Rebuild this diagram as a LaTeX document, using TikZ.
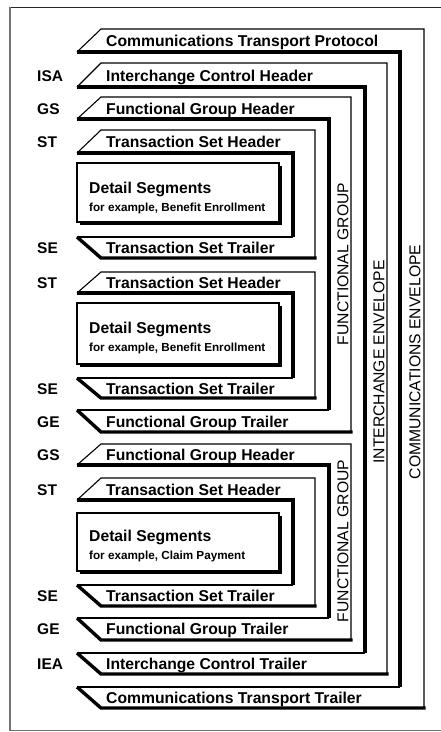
\documentclass[tikz,border=0pt]{standalone}
\usepackage{fontspec}
\setmainfont{Liberation Sans}
\begin{document}
\begin{tikzpicture}[x=1pt,y=-1pt,
  thinln/.style={line width=1.1pt,line join=miter},
  thickln/.style={line width=3.4pt,line join=miter},
  tabtext/.style={anchor=base west,inner sep=0pt,font=\fontsize{15.7}{18}\selectfont\bfseries},
  segtext/.style={anchor=base west,inner sep=0pt,font=\fontsize{15.7}{18}\selectfont\bfseries},
  lbltext/.style={anchor=base west,inner sep=0pt,font=\fontsize{15.5}{18}\selectfont\bfseries},
  smalltext/.style={anchor=base west,inner sep=0pt,font=\fontsize{11.7}{14}\selectfont\bfseries},
  vtext/.style={rotate=90,anchor=center,inner sep=0pt,font=\fontsize{15.7}{18}\selectfont}]
\useasboundingbox (0,0) rectangle (440,732);
% outer frame
\draw[line width=1.8pt,black!85] (10,7.5) -- (441,7.5);
\draw[line width=1.5pt,black!55] (10,7) -- (10,730.5) -- (441,730.5);
% envelope macro: #1 yt, #2 yb, #3 ytt, #4 ytb, #5 xi, #6 xo
\newcommand\envshape[6]{%
  \draw[thinln] (77,#2) -- (101,#1) -- (#6,#1) -- (#6,#4);
  \draw[thinln] (#5,#3) -- (77,#3);
  \draw[thickln] (77,#2) -- (#5,#2) -- (#5,#3);
  \draw[thickln] (77,#3) -- (101,#4) -- (#6+1.5,#4);
}
\newcommand\segbox[4]{%
  \draw[thinln] (#1,#2) rectangle (#3,#4);
  \draw[line width=2.6pt,line join=miter] (#1+3,#4+1.6) -- (#3+1.6,#4+1.6) -- (#3+1.6,#2+3);
}
\envshape{29}{52}{687}{708}{400}{424}
\envshape{63}{87}{653}{674}{365}{387}
\envshape{97}{119}{410}{432}{329}{351}
\envshape{130}{153}{237}{258}{293}{315}
\envshape{272}{293}{378}{398}{293}{315}
\envshape{444}{465}{618}{640}{329}{351}
\envshape{478}{500}{585}{606}{293}{315}
\segbox{77}{163}{279}{222}
\segbox{77}{303}{279}{364}
\segbox{77}{513}{279}{571}
% tab texts
\node[tabtext] (cth) at (106,46) {Communications Transport Protocol};
\node[tabtext] (ich) at (106,81) {Interchange Control Header};
\node[tabtext] (fgh1) at (106,114) {Functional Group Header};
\node[tabtext] (tsh1) at (106,147) {Transaction Set Header};
\node[tabtext] (tst1) at (106,253) {Transaction Set Trailer};
\node[tabtext] (tsh2) at (106,288) {Transaction Set Header};
\node[tabtext] (tst2) at (106,394) {Transaction Set Trailer};
\node[tabtext] (fgt1) at (106,427) {Functional Group Trailer};
\node[tabtext] (fgh2) at (106,460) {Functional Group Header};
\node[tabtext] (tsh3) at (106,495) {Transaction Set Header};
\node[tabtext] (tst3) at (106,601) {Transaction Set Trailer};
\node[tabtext] (fgt2) at (106,634) {Functional Group Trailer};
\node[tabtext] (ict) at (106,669) {Interchange Control Trailer};
\node[tabtext] (ctt) at (106,703) {Communications Transport Trailer};
% detail texts
\node[segtext] (ds1) at (89,193) {Detail Segments};
\node[smalltext] (ex1) at (89,211) {for example, Benefit Enrollment};
\node[segtext] (ds2) at (89,333) {Detail Segments};
\node[smalltext] (ex2) at (89,351) {for example, Benefit Enrollment};
\node[segtext] (ds3) at (89,541) {Detail Segments};
\node[smalltext] (ex3) at (89,559) {for example, Claim Payment};
% left labels
\node[lbltext] (lisa) at (37,81) {ISA};
\node[lbltext] (lgs1) at (37,114) {GS};
\node[lbltext] (lst1) at (37,147) {ST};
\node[lbltext] (lse1) at (37,253) {SE};
\node[lbltext] (lst2) at (37,288) {ST};
\node[lbltext] (lse2) at (37,394) {SE};
\node[lbltext] (lge1) at (37,427) {GE};
\node[lbltext] (lgs2) at (37,460) {GS};
\node[lbltext] (lst3) at (37,495) {ST};
\node[lbltext] (lse3) at (37,601) {SE};
\node[lbltext] (lge2) at (37,634) {GE};
\node[lbltext] (liea) at (37,669) {IEA};
% vertical texts
\node[vtext] (vfg1) at (343,264) {FUNCTIONAL GROUP};
\node[vtext] (vfg2) at (343,541) {FUNCTIONAL GROUP};
\node[vtext] (vie) at (379,362) {INTERCHANGE ENVELOPE};
\node[vtext] (vce) at (415,362) {COMMUNICATIONS ENVELOPE};
\end{tikzpicture}
\end{document}
